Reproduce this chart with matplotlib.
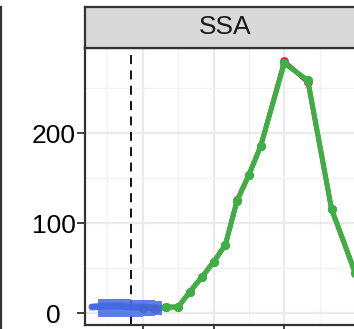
import numpy as np
import matplotlib
matplotlib.use("Agg")
import matplotlib.pyplot as plt
from matplotlib.lines import Line2D

plt.rcParams['font.family'] = ['Liberation Sans', 'DejaVu Sans']

# observed series (green) and fitted series (red, sits just under the green)
obs_x = [2, 3, 4, 5, 6, 7, 8, 9, 10, 12, 14, 16, 18]
obs_y = [7, 7, 24, 40, 57, 76, 125, 154, 186, 278, 259, 116, 45]
fit_y = [7, 7, 24, 40, 57, 76, 126, 154, 186, 280, 257, 116, 45]

# baseline band (blue) before the dashed marker
band_x = [-4.5, -3.9, -3.8, -3, -2, -1, 0, 1, 1.6]
band_lo = [5, 5, -4, -4, -4, -4, -3, -2, -1]
band_hi = [10, 10, 16, 16, 16, 15, 15, 14, 13]
line_x = [-4.3, -3, -2, -1, 0, 1, 1.5]
line_y = [7, 8, 8, 7, 7, 6, 6]
base_pts_x = [0, 1]
base_pts_y = [6, 5]

event_x = -1
facet = "SSA"

W, H = 354, 329
fig = plt.figure(figsize=(W / 100, H / 100), dpi=100)

left, right = 85, 366
top, bottom = 48, 325
ax = fig.add_axes([left / W, (H - bottom) / H, (right - left) / W, (bottom - top) / H])

ax.set_xlim(-4.89, 18.92)
ax.set_ylim(-13, 295)

ax.set_xticks([0, 6, 12, 18])
ax.set_xticks([-3, 3, 9, 15], minor=True)
ax.set_yticks([0, 100, 200])
ax.set_yticks([50, 150, 250], minor=True)
ax.grid(which='major', color='#EBEBEB', lw=1.6)
ax.grid(which='minor', color='#F2F2F2', lw=1.0)
ax.set_axisbelow(True)
ax.tick_params(axis='x', which='major', length=5, width=1.3, color='#333333',
               labelbottom=False)
ax.tick_params(axis='y', which='major', length=5.5, width=1.3, color='#333333',
               labelsize=19, pad=17)
for lab in ax.get_yticklabels():
    lab.set_horizontalalignment('center')
ax.tick_params(which='minor', length=0)
for sp in ax.spines.values():
    sp.set_color('#333333')
    sp.set_linewidth(1.6)

ax.axvline(event_x, color='black', lw=1.3, ls=(0, (5, 3.5)), zorder=2)

ax.fill_between(band_x, band_lo, band_hi, color='#4169E1', alpha=0.85, lw=0,
                step='post', zorder=3)
ax.plot(line_x, line_y, color='#4169E1', lw=5, alpha=0.9, solid_capstyle='round', zorder=3)
ax.plot(base_pts_x, base_pts_y, 'o', color='#4A66C8', ms=6, alpha=0.7, zorder=3)

ax.plot(obs_x, fit_y, '-o', color='#E0173C', lw=3.4, ms=6.3, mew=0, zorder=4)
ax.plot(obs_x, obs_y, '-o', color='#3BB143', lw=3.6, ms=6.6, mew=0, zorder=5)

# facet strip
sax = fig.add_axes([left / W, (H - top) / H, (right - left) / W, (top - 7) / H])
sax.set_xticks([])
sax.set_yticks([])
sax.set_facecolor('#D9D9D9')
for sp in sax.spines.values():
    sp.set_color('#333333')
    sp.set_linewidth(1.6)
sax.text(0.5, 0.5, facet, ha='center', va='center', fontsize=19, color='#1A1A1A',
         transform=sax.transAxes)

# border of the neighbouring panel on the left
fig.add_artist(Line2D([1 / W, 1 / W], [0, (H - 7) / H], color='#333333', lw=1.6))

fig.savefig("out.png", dpi=100)
